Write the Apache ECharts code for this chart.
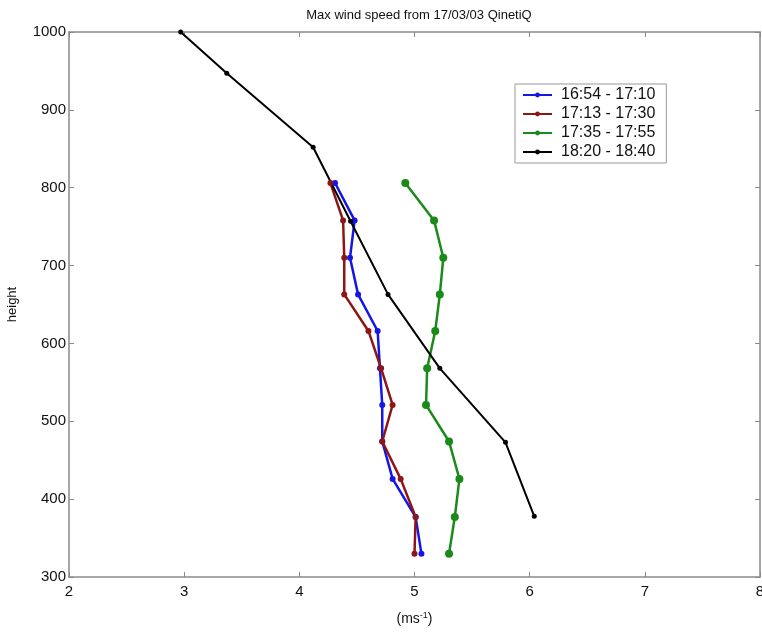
<!DOCTYPE html>
<html>
<head>
<meta charset="utf-8">
<script src="https://cdn.jsdelivr.net/npm/echarts@6/dist/echarts.min.js"></script>
<style>html,body{margin:0;padding:0;background:#fff}#c{width:762px;height:632px}</style>
</head>
<body>
<div id="c"></div>
<script>
var heights = [806, 758, 710, 663, 616, 568, 521, 474, 426, 377, 330];
var blueSpeed = [4.31, 4.48, 4.44, 4.51, 4.68, 4.70, 4.72, 4.72, 4.81, 5.01, 5.06];
var redSpeed = [4.27, 4.38, 4.39, 4.39, 4.60, 4.71, 4.81, 4.72, 4.88, 5.01, 5.00];
var greenSpeed = [4.92, 5.17, 5.25, 5.22, 5.18, 5.11, 5.10, 5.30, 5.39, 5.35, 5.30];
var blackHeights = [1000, 947, 852, 757, 663, 568, 473, 378];
var blackSpeed = [2.97, 3.37, 4.12, 4.445, 4.77, 5.22, 5.79, 6.04];
var seriesNames = ['16:54 - 17:10', '17:13 - 17:30', '17:35 - 17:55', '18:20 - 18:40'];
var xTicks = [2, 3, 4, 5, 6, 7, 8];
var yTicks = [300, 400, 500, 600, 700, 800, 900, 1000];

function pairs(xs, ys) { return xs.map(function (v, i) { return [v, ys[i]]; }); }

var chart = echarts.init(document.getElementById('c'), null, {renderer: 'canvas'});
var font = 'Arial, "Liberation Sans", sans-serif';
var axisCol = '#8a8a8a';
function mkX(pos, show) {
  return {
    type: 'value', position: pos, min: xTicks[0], max: xTicks[xTicks.length - 1], interval: 1,
    axisLine: {show: true, onZero: false, lineStyle: {color: axisCol, width: 1.5}},
    axisTick: {show: true, inside: true, length: 5, lineStyle: {color: axisCol}},
    axisLabel: {show: show, color: '#111', fontSize: 15, fontFamily: font, margin: 7,
      formatter: function (v) { return String(v); }},
    splitLine: {show: false},
    name: show ? '(ms{sup|-1})' : '', nameLocation: 'middle', nameGap: 34,
    nameTextStyle: {color: '#111', fontSize: 14, fontFamily: font,
      rich: {sup: {fontSize: 9, verticalAlign: 'top', padding: [0, 0, 8, 0], color: '#111', fontFamily: font}}}
  };
}
function mkY(pos, show) {
  return {
    type: 'value', position: pos, min: yTicks[0], max: yTicks[yTicks.length - 1], interval: 100,
    axisLine: {show: true, onZero: false, lineStyle: {color: axisCol, width: 1.5}},
    axisTick: {show: true, inside: true, length: 5, lineStyle: {color: axisCol}},
    axisLabel: {show: show, color: '#111', fontSize: 15, fontFamily: font, margin: 3,
      formatter: function (v) { return String(v); }},
    splitLine: {show: false},
    name: show ? 'height' : '', nameLocation: 'middle', nameGap: 50, nameRotate: 90,
    nameTextStyle: {color: '#111', fontSize: 13, fontFamily: font}
  };
}
function line(name, data, color, size, width) {
  return {
    name: name, type: 'line', data: data, xAxisIndex: 0, yAxisIndex: 0,
    symbol: 'circle', symbolSize: size, showSymbol: true,
    itemStyle: {color: color}, lineStyle: {color: color, width: width},
    animation: false, clip: true
  };
}
chart.setOption({
  backgroundColor: '#fff',
  title: {text: 'Max wind speed from 17/03/03 QinetiQ', left: 414, textAlign: 'center', top: 4,
    textStyle: {fontSize: 13, fontWeight: 'normal', color: '#111', fontFamily: font}},
  grid: {left: 69, right: 2, top: 32, bottom: 55, containLabel: false, outerBoundsMode: 'none'},
  xAxis: [mkX('bottom', true), mkX('top', false)],
  yAxis: [mkY('left', true), mkY('right', false)],
  legend: {
    data: seriesNames, orient: 'vertical', left: 515, top: 84,
    backgroundColor: '#fff', borderColor: '#999', borderWidth: 1,
    padding: [3, 11, 3, 7], itemGap: 3, itemWidth: 29, itemHeight: 6,
    textStyle: {fontSize: 16, color: '#111', fontFamily: font, lineHeight: 16, padding: [0, 0, 0, 4]}
  },
  series: [
    line(seriesNames[0], pairs(blueSpeed, heights), '#1515e6', 6, 2.5),
    line(seriesNames[1], pairs(redSpeed, heights), '#8c1616', 6, 2.5),
    line(seriesNames[2], pairs(greenSpeed, heights), '#1a8a1a', 8, 2.5),
    line(seriesNames[3], pairs(blackSpeed, blackHeights), '#000000', 5, 2)
  ]
});
</script>
</body>
</html>
